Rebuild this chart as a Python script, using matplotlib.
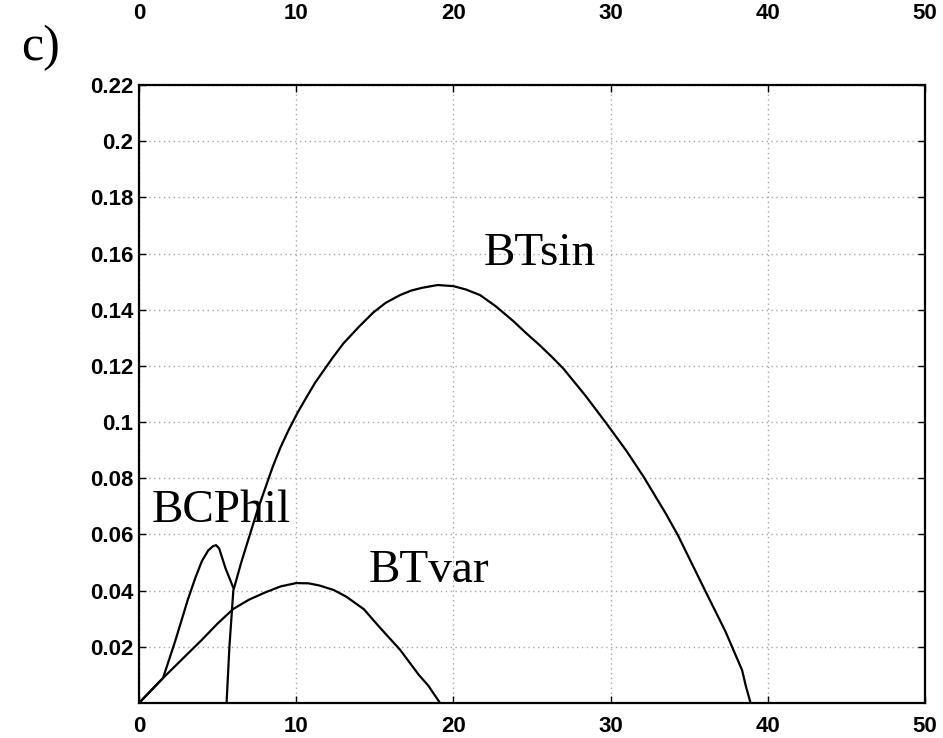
#!/usr/bin/env python3
"""Panel c): BTsin, BTvar and BCPhil curves."""

import matplotlib
matplotlib.use("Agg")
import matplotlib.pyplot as plt

# curves
btsin_x = [5.57, 5.75, 6.0, 6.5, 7.0, 7.5, 8.0, 8.5, 9.0, 9.5, 10.1, 10.67,
           11.2, 11.7, 12.3, 13.0, 14.0, 14.9, 15.7, 16.6, 17.3, 18.0, 19.0,
           20.0, 20.8, 21.7, 22.7, 23.8, 24.6, 25.5, 26.3, 27.0, 28.4, 29.8,
           31.0, 32.1, 33.5, 34.3, 35.0, 36.1, 37.3, 38.36, 38.6, 38.9]
btsin_y = [0.0, 0.02, 0.040, 0.050, 0.059, 0.068, 0.076, 0.084, 0.091, 0.097,
           0.1035, 0.109, 0.114, 0.118, 0.1228, 0.128, 0.134, 0.139, 0.1425,
           0.1452, 0.1468, 0.1478, 0.1488, 0.1484, 0.1472, 0.1452, 0.1412,
           0.136, 0.1318, 0.1273, 0.1230, 0.119, 0.1094, 0.099, 0.0898, 0.0805,
           0.0675, 0.0595, 0.0515, 0.039, 0.0255, 0.0117, 0.006, 0.0]

btvar_x = [0, 1.53, 3.0, 4.0, 5.0, 6.0, 7.0, 8.0, 9.0, 10.0, 10.8, 11.5, 12.4,
           13.2, 14.3, 15.3, 16.6, 17.8, 18.4, 18.7, 19.15]
btvar_y = [0.0, 0.0089, 0.017, 0.0225, 0.0283, 0.0335, 0.0368, 0.0393, 0.0415,
           0.0427, 0.0426, 0.0418, 0.0402, 0.0378, 0.0334, 0.027, 0.019, 0.010,
           0.0062, 0.0037, 0.0]

bcphil_x = [0, 1.53, 2.3, 3.1, 3.6, 4.0, 4.4, 4.7, 4.9, 5.1, 5.5, 6.0]
bcphil_y = [0.0, 0.0089, 0.022, 0.0367, 0.0448, 0.0505, 0.0543, 0.0558, 0.0562,
            0.055, 0.048, 0.041]

labels = ["BTsin", "BTvar", "BCPhil"]
label_pos = [(21.9, 0.156), (14.6, 0.043), (0.8, 0.0645)]

xticks = [0, 10, 20, 30, 40, 50]
yticks = [0.02, 0.04, 0.06, 0.08, 0.1, 0.12, 0.14, 0.16, 0.18, 0.2, 0.22]

tick_font = dict(family="Liberation Sans", weight="bold", size=16)

fig = plt.figure(figsize=(9.43, 7.38), dpi=100)
ax = fig.add_axes([0.1474, 0.0474, 0.8336, 0.8374])

for xs, ys in [(btsin_x, btsin_y), (btvar_x, btvar_y), (bcphil_x, bcphil_y)]:
    ax.plot(xs, ys, color="black", lw=1.6, solid_joinstyle="round")

for name, (tx, ty) in zip(labels, label_pos):
    ax.text(tx, ty, name, family="Liberation Serif", fontsize=34, ha="left", va="baseline")

ax.set_xlim(0, 50)
ax.set_ylim(0, 0.22)
ax.set_xticks(xticks)
ax.set_yticks(yticks)
ax.set_xticklabels([str(t) for t in xticks], fontdict=tick_font)
ax.set_yticklabels([f"{t:g}" for t in yticks], fontdict=tick_font)
ax.tick_params(direction="in", length=5, width=1, top=True, right=True)
ax.tick_params(axis="x", pad=9)
ax.tick_params(axis="y", pad=4)
ax.grid(True, color="0.65", linestyle=(0, (1, 2.5)), linewidth=1)
for s in ax.spines.values():
    s.set_linewidth(1.6)

# tick labels of the panel above, at the top edge
ax_top = fig.add_axes([0.1474, 1.0, 0.8336, 0.01])
ax_top.set_xlim(0, 50)
ax_top.set_xticks(xticks)
ax_top.set_xticklabels([str(t) for t in xticks], fontdict=tick_font)
ax_top.set_yticks([])
ax_top.tick_params(length=0, pad=2)
for s in ax_top.spines.values():
    s.set_visible(False)

fig.text(0.022, 0.935, "c)", family="Liberation Serif", fontsize=36, ha="left", va="center")

fig.savefig("out.png", dpi=100)
